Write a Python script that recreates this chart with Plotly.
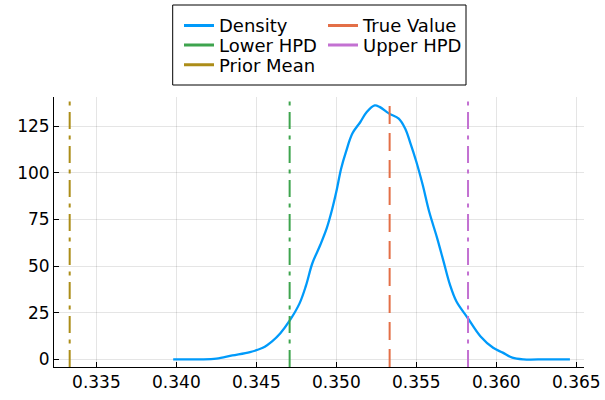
import plotly.graph_objects as go

# Density curve
density_x = [0.3398, 0.3415, 0.3425, 0.3435, 0.3446, 0.3454, 0.3460, 0.3465, 0.3471,
             0.3477, 0.3481, 0.3485, 0.3490, 0.3494, 0.3497, 0.3500, 0.3503, 0.3506,
             0.3510, 0.3515, 0.3519, 0.3524, 0.3527, 0.3533, 0.3539, 0.3543, 0.3546,
             0.3550, 0.3554, 0.3558, 0.3563, 0.3567, 0.3571, 0.3575, 0.3582, 0.3590,
             0.3598, 0.3604, 0.3610, 0.3617, 0.3631, 0.3646]
density_y = [0.0, 0.0, 0.4, 2.1, 3.9, 6.2, 9.8, 14.0, 21.0,
             30.0, 39.5, 51.5, 61.4, 70.3, 79.2, 89.9, 102.3, 111.2,
             121.0, 127.2, 132.6, 136.1, 135.3, 131.7, 129.0, 123.7, 116.6,
             105.9, 93.4, 79.2, 65.0, 52.5, 40.0, 31.1, 22.3, 12.4,
             6.2, 3.6, 0.9, 0.0, 0.0, 0.0]

true_value = 0.35333
lower_hpd = 0.34708
upper_hpd = 0.35823
prior_mean = 0.33333

x_range = [0.33235, 0.36548]
y_range = [-4.1, 140.6]
x_ticks = [0.335, 0.340, 0.345, 0.350, 0.355, 0.360, 0.365]
y_ticks = [0, 25, 50, 75, 100, 125]

names = ["Density", "True Value", "Lower HPD", "Upper HPD", "Prior Mean"]
colors = ["#009AFA", "#E36F47", "#3EA44E", "#C371D2", "#AC8D18"]

FONT = "DejaVu Sans"
FS = 17
LFS = 18
W, H = 605, 400
ML, MR, MT, MB = 54, 21, 97, 33

dashdot = "17px,6.5px,4px,6.5px"
dash = "18px,9px"

fig = go.Figure()
fig.add_trace(go.Scatter(x=density_x, y=density_y, mode="lines", name=names[0],
                         line=dict(color=colors[0], width=2.3, shape="spline", smoothing=1.0),
                         showlegend=False))
vlines = [(true_value, dash), (lower_hpd, dashdot), (upper_hpd, dashdot), (prior_mean, dashdot)]
for i, (v, d) in enumerate(vlines, start=1):
    fig.add_trace(go.Scatter(x=[v, v], y=y_range, mode="lines", name=names[i],
                             line=dict(color=colors[i], width=2, dash=d), showlegend=False))

# legend entries (solid samples, as in the reference)
legend_ids = ["legend", "legend2", "legend3", "legend4", "legend5"]
for i in range(5):
    fig.add_trace(go.Scatter(x=[None], y=[None], mode="lines", name=names[i],
                             line=dict(color=colors[i], width=3), legend=legend_ids[i],
                             showlegend=True, hoverinfo="skip"))

def leg(px, py):
    return dict(x=px / W, y=1 - py / H, xref="container", yref="container",
                xanchor="left", yanchor="middle", bgcolor="rgba(0,0,0,0)",
                borderwidth=0, font=dict(family=FONT, size=LFS, color="black"))

fig.update_layout(
    width=W, height=H,
    margin=dict(l=ML, r=MR, t=MT, b=MB, autoexpand=False),
    plot_bgcolor="white", paper_bgcolor="white",
    font=dict(family=FONT, size=FS, color="black"),
    showlegend=True,
    legend=leg(179, 25.7),
    legend2=leg(323, 25.7),
    legend3=leg(179, 45.3),
    legend4=leg(323, 45.3),
    legend5=leg(179, 65.0),
    xaxis=dict(range=x_range, tickvals=x_ticks, ticktext=[f"{v:.3f}" for v in x_ticks],
               showgrid=True, gridcolor="rgba(0,0,0,0.1)", gridwidth=1,
               showline=True, linecolor="black", linewidth=1, mirror=False,
               ticks="inside", ticklen=5, tickcolor="black", zeroline=False,
               tickfont=dict(family=FONT, size=FS, color="black")),
    yaxis=dict(range=y_range, tickvals=y_ticks,
               showgrid=True, gridcolor="rgba(0,0,0,0.1)", gridwidth=1,
               showline=True, linecolor="black", linewidth=1, mirror=False,
               ticks="inside", ticklen=5, tickcolor="black", zeroline=False,
               tickfont=dict(family=FONT, size=FS, color="black")),
)

pw = W - ML - MR
ph = H - MT - MB
def px2paper_x(px):
    return (px - ML) / pw
def py2paper_y(py):
    return (H - MB - py) / ph

fig.add_shape(type="rect", xref="paper", yref="paper",
              x0=px2paper_x(172.7), x1=px2paper_x(466),
              y0=py2paper_y(85), y1=py2paper_y(5),
              line=dict(color="black", width=1), fillcolor="rgba(0,0,0,0)")

fig.write_html("out.html")
